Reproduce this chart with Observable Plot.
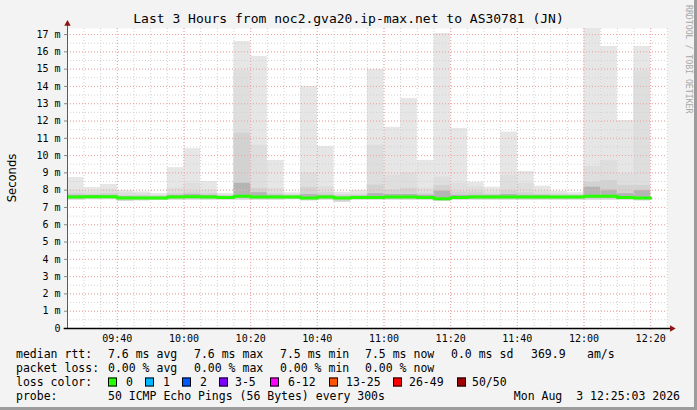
<!DOCTYPE html>
<html><head><meta charset="utf-8">
<script src="https://cdn.jsdelivr.net/npm/d3@7"></script>
<script src="https://cdn.jsdelivr.net/npm/@observablehq/plot@0.6"></script>
<style>
html,body{margin:0;padding:0;background:#f3f3f3}
#wrap{position:relative;width:697px;height:410px;background:#f3f3f3;overflow:hidden;font-family:"DejaVu Sans Mono",monospace;color:#000}
#chart{position:absolute;left:0;top:0}
.t{position:absolute;white-space:pre;font-size:11.5px;line-height:12px;transform:translateY(-50%)}
.box{position:absolute;width:7px;height:7px;border:1px solid #000;transform:translateY(-50%)}
#title{position:absolute;top:11px;left:0;width:697px;text-align:center;font-size:13px;line-height:16px;white-space:pre}
#ylab{position:absolute;left:12px;top:178px;transform:translate(-50%,-50%) rotate(-90deg);font-family:"DejaVu Sans",sans-serif;font-size:11.6px;white-space:nowrap}
#credit{position:absolute;left:684px;top:5px;writing-mode:vertical-rl;font-size:8.2px;color:#a8a8a8;white-space:nowrap}
#bR{position:absolute;right:0;top:0;width:3px;height:410px;background:#9c9c9c}
#bB{position:absolute;left:0;bottom:0;width:697px;height:3px;background:#9c9c9c}
</style></head>
<body>
<div id="wrap">
  <div id="chart"></div>
  <div id="title">Last 3 Hours from noc2.gva20.ip-max.net to AS30781 (JN)</div>
  <div id="ylab">Seconds</div>
  <div id="credit">RRDTOOL / TOBI OETIKER</div>
  <div id="legend"></div>
  <div id="bR"></div><div id="bB"></div>
</div>
<script>
// ---- data ----
const slotLabels = ["09:25","09:30","09:35","09:40","09:45","09:50","09:55","10:00","10:05","10:10","10:15","10:20","10:25","10:30","10:35","10:40","10:45","10:50","10:55","11:00","11:05","11:10","11:15","11:20","11:25","11:30","11:35","11:40","11:45","11:50","11:55","12:00","12:05","12:10","12:15"];
const stepSeconds = 300;
const medianMs = [7.6,7.62,7.62,7.55,7.55,7.55,7.6,7.62,7.6,7.58,7.65,7.6,7.6,7.6,7.55,7.6,7.55,7.58,7.58,7.6,7.6,7.58,7.5,7.58,7.6,7.6,7.6,7.6,7.6,7.6,7.6,7.65,7.65,7.58,7.55];
const maxMs = [8.73,8.15,8.33,7.98,7.9,7.8,9.3,10.4,8.5,7.8,16.6,15.73,9.72,7.85,14.0,10.53,7.88,7.98,14.98,11.63,13.3,9.72,17.06,11.57,8.46,8.17,11.36,9.08,8.23,7.94,7.85,17.4,16.31,12.03,16.31];
const q1Ms = [8.0,7.9,8.05,7.85,7.8,7.7,8.1,8.4,8.0,7.72,14.9,10.6,8.1,7.75,9.0,8.2,7.75,7.8,10.6,8.85,9.0,8.1,8.75,8.4,8.2,7.9,8.85,8.4,7.95,7.8,7.75,9.37,9.72,8.96,14.9];
const q2Ms = [7.8,7.75,7.8,7.7,7.7,7.65,7.8,7.9,7.8,7.68,11.3,8.1,7.8,7.7,8.15,7.85,7.7,7.7,8.3,8.0,8.1,7.8,8.27,7.9,7.9,7.75,7.95,7.85,7.75,7.72,7.7,8.46,8.56,8.27,8.27];
const q3Ms = [7.7,7.68,7.7,7.62,7.6,7.6,7.7,7.75,7.7,7.63,8.4,7.85,7.7,7.65,7.75,7.7,7.6,7.65,7.8,7.75,7.75,7.7,7.95,7.7,7.7,7.7,7.75,7.7,7.7,7.65,7.66,8.17,8.0,7.8,7.98];
const minMs = [7.42,7.45,7.45,7.35,7.38,7.4,7.42,7.42,7.42,7.42,7.42,7.42,7.42,7.45,7.38,7.42,7.3,7.42,7.42,7.42,7.42,7.42,7.35,7.42,7.42,7.42,7.42,7.42,7.42,7.42,7.42,7.42,7.42,7.42,7.38];
const lossPct = new Array(35).fill(0);
const yTickValues = [0,1,2,3,4,5,6,7,8,9,10,11,12,13,14,15,16,17];
const yTickLabels = ["0","1 m","2 m","3 m","4 m","5 m","6 m","7 m","8 m","9 m","10 m","11 m","12 m","13 m","14 m","15 m","16 m","17 m"];
const xTickLabels = ["09:40","10:00","10:20","10:40","11:00","11:20","11:40","12:00","12:20"];
const lossLabels = ["0","1","2","3-5","6-12","13-25","26-49","50/50"];
const lossColors = ["#26ff00","#00b8ff","#0059ff","#7e00ff","#ff00ff","#ff5500","#ff0000","#a10000"];
const startStamp = "2026-08-03T09:25:03Z", endStamp = "2026-08-03T12:25:03Z";
const yTop = 17.35;

// ---- build ----
const T = s => new Date(`2026-08-03T${s}:00Z`);
const x0 = new Date(startStamp), xEnd = new Date(endStamp);
const bars = slotLabels.map((s,i) => {
  const t0 = T(s);
  return {t0, t1: new Date(+t0 + stepSeconds*1000), max:maxMs[i], q1:q1Ms[i], q2:q2Ms[i], q3:q3Ms[i], min:minMs[i], med:medianMs[i], loss:lossPct[i]};
});
const line = bars.map(b => ({t:b.t0, m:b.med}));
line.push({t: bars[bars.length-1].t1, m: bars[bars.length-1].med});
const xTickDates = xTickLabels.map(T);
const minorX = d3.utcMinute.every(5).range(x0, new Date(+xEnd + 1000));
const minorY = d3.range(0.5, 17.5, 0.5);
const sec = n => new Date(+x0 + n*1000);

const chart = Plot.plot({
  width: 697, height: 345,
  marginLeft: 67, marginRight: 30, marginTop: 28, marginBottom: 17,
  style: {background:"transparent", fontFamily:"'DejaVu Sans Mono', monospace", fontSize:"10px", color:"#000", overflow:"visible"},
  x: {type:"utc", domain:[x0, xEnd]},
  y: {domain:[0, yTop]},
  marks: [
    Plot.frame({fill:"#fff", stroke:null}),
    Plot.rect(bars, {x1:"t0", x2:"t1", y1:"min", y2:"max", fill:"#e6e6e6", clip:true}),
    Plot.rect(bars, {x1:"t0", x2:"t1", y1:"min", y2:"q1", fill:"#dedede", clip:true}),
    Plot.rect(bars, {x1:"t0", x2:"t1", y1:d=>d.min+0.03, y2:"q2", fill:"#d2d2d2", clip:true}),
    Plot.rect(bars, {x1:"t0", x2:"t1", y1:d=>d.med-0.1, y2:"q3", fill:"#b4b4b4", clip:true}),
    Plot.gridY(minorY, {stroke:"#d2d2d2", strokeOpacity:1, strokeDasharray:"1,2"}),
    Plot.gridX(minorX, {stroke:"#d2d2d2", strokeOpacity:1, strokeDasharray:"1,2"}),
    Plot.gridY(yTickValues.slice(1), {stroke:"#f4a4a4", strokeOpacity:1, strokeDasharray:"1,2"}),
    Plot.gridX(xTickDates, {stroke:"#f4a4a4", strokeOpacity:1, strokeDasharray:"1,2"}),
    Plot.line(line, {x:"t", y:"m", curve:"step-after", stroke:lossColors[0], strokeWidth:3, clip:true}),
    Plot.axisY(yTickValues, {tickFormat:d => yTickLabels[yTickValues.indexOf(d)], tickSize:3, tickPadding:4, stroke:"#888", label:null, fontSize:10}),
    Plot.axisX(xTickDates, {tickFormat:d => xTickLabels[xTickDates.findIndex(t => +t === +d)], tickSize:2, tickPadding:4, stroke:"#f08080", label:null, fontSize:10}),
    Plot.ruleX([x0], {y1:0, y2:17.6, stroke:"#5a5a5a", strokeWidth:1}),
    Plot.ruleY([0], {x1:sec(-60), x2:sec(10872), stroke:"#000", strokeWidth:1.6}),
    Plot.dot([{x:x0, y:17.62}], {x:"x", y:"y", symbol:"triangle", r:2.4, fill:"#8b1414", stroke:null}),
    Plot.dot([{x:sec(10880), y:0}], {x:"x", y:"y", symbol:"triangle", r:2.4, fill:"#8b1414", stroke:null, rotate:90})
  ]
});
document.getElementById("chart").appendChild(chart);

// ---- legend ----
const legend = document.getElementById("legend");
const put = (txt, x, y) => { const d = document.createElement("div"); d.className="t"; d.textContent=txt; d.style.left=x+"px"; d.style.top=y+"px"; legend.appendChild(d); return d; };
put("median rtt:", 16, 354);
put("7.6 ms avg", 108, 354); put("7.6 ms max", 194, 354); put("7.5 ms min", 280, 354);
put("7.5 ms now", 365, 354); put("0.0 ms sd", 451, 354); put("369.9", 531, 354); put("am/s", 587, 354);
put("packet loss:", 16, 368);
put("0.00 % avg", 108, 368); put("0.00 % max", 194, 368); put("0.00 % min", 280, 368); put("0.00 % now", 365, 368);
put("loss color:", 16, 382);
const boxX = [108, 145, 182, 219, 270, 329, 393, 457];
const labX = [126, 163, 200, 235, 288, 346, 409, 472];
lossLabels.forEach((l,i) => {
  const b = document.createElement("div"); b.className="box"; b.style.left=boxX[i]+"px"; b.style.top="382px"; b.style.background=lossColors[i]; legend.appendChild(b);
  put(l, labX[i], 382);
});
put("probe:", 16, 396);
put("50 ICMP Echo Pings (56 Bytes) every 300s", 108, 396);
const dt = put("Mon Aug  3 12:25:03 2026", 0, 396); dt.style.left="auto"; dt.style.right="17px";
</script>
</body></html>
